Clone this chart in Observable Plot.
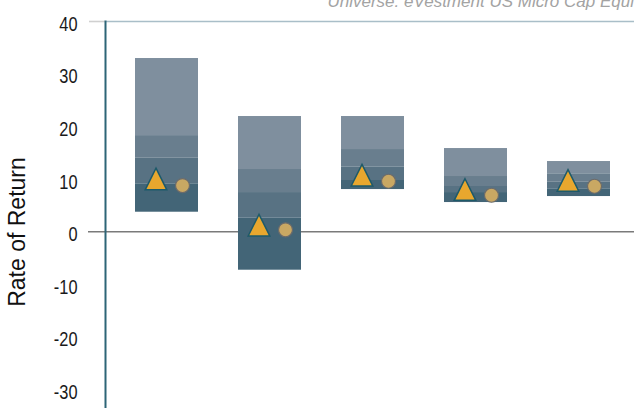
<!DOCTYPE html>
<html>
<head>
<meta charset="utf-8">
<script src="https://cdn.jsdelivr.net/npm/d3@7"></script>
<script src="https://cdn.jsdelivr.net/npm/@observablehq/plot@0.6"></script>
<style>
  html, body { margin: 0; padding: 0; background: #fff; overflow: hidden; }
</style>
</head>
<body>
<div id="chart"></div>
<script>
// Periods (x labels are outside the visible crop)
const categories = ["Period 1", "Period 2", "Period 3", "Period 4", "Period 5"];
// Universe percentile range bounds
const p95 = [32.96, 21.93, 21.93, 15.84, 13.37];
const p75 = [18.3, 11.85, 15.65, 10.52, 11.03];
const p50 = [14.0, 7.47, 12.29, 8.62, 9.43];
const p25 = [9.13, 2.59, 9.76, 7.47, 8.18];
const p5  = [3.73, -7.3, 8.04, 5.57, 6.71];
// Portfolio (triangle) and benchmark (circle)
const portfolio = [9.36, 0.59, 10.1, 7.36, 9.1];
const benchmark = [8.8, 0.38, 9.62, 6.96, 8.67];
// Y tick values
const yTicks = [-30, -20, -10, 0, 10, 20, 30, 40];
const title = "Universe: eVestment US Micro Cap Equity";
const yLabel = "Rate of Return";

const bands = [
  {lo: p75, hi: p95, color: "#7f8f9e"},
  {lo: p50, hi: p75, color: "#697e8e"},
  {lo: p25, hi: p50, color: "#587283"},
  {lo: p5,  hi: p25, color: "#436577"}
];

const tallTriangle = {
  draw(context, size) {
    const r = Math.sqrt(size / Math.PI);
    const h = 2 * r;
    context.moveTo(0, -2 * h / 3);
    context.lineTo(r, h / 3);
    context.lineTo(-r, h / 3);
    context.closePath();
  }
};

const chart = Plot.plot({
  width: 634,
  height: 408,
  marginLeft: 105,
  marginRight: 0,
  marginTop: 21,
  marginBottom: 0,
  style: {background: "#fff", overflow: "hidden"},
  x: {type: "band", domain: categories, range: [105, 639], paddingInner: 0.393, paddingOuter: 0.27, axis: null},
  y: {domain: [-33.6, 40], axis: null},
  marks: [
    Plot.ruleY([40], {stroke: "#a9bec8", strokeWidth: 1.6, insetLeft: 1}),
    Plot.ruleY([40], {stroke: "#d0d0d0", strokeWidth: 1.6, insetLeft: -16, insetRight: 529}),
    Plot.ruleY([0], {stroke: "#7a7a7a", strokeWidth: 1.5, insetLeft: -17}),
    ...bands.map(b => Plot.barY(categories, {
      x: d => d,
      y1: (d, i) => b.lo[i],
      y2: (d, i) => b.hi[i],
      fill: b.color
    })),
    Plot.frame({anchor: "left", stroke: "#2d6577", strokeWidth: 2}),
    Plot.axisY({
      ticks: yTicks,
      tickFormat: d => String(d),
      tickSize: 0,
      tickPadding: 28,
      label: null,
      fontSize: 20,
      fontFamily: "'Liberation Sans', Arial, sans-serif",
      fill: "#1a1a1a",
      dy: 3
    }),
    Plot.dot(categories, {
      x: d => d,
      y: (d, i) => benchmark[i],
      r: 7,
      dx: 15.5,
      fill: "#c9a863",
      stroke: "#6b6b6b",
      strokeWidth: 1.2
    }),
    Plot.dot(categories, {
      x: d => d,
      y: (d, i) => portfolio[i],
      r: 10.8,
      dx: -11,
      symbol: tallTriangle,
      fill: "#e8a72e",
      stroke: "#1d5a6a",
      strokeWidth: 1.5
    }),
    Plot.text([title], {
      frameAnchor: "top-left",
      dx: 222,
      dy: -15,
      textAnchor: "start",
      lineAnchor: "bottom",
      fontSize: 17,
      fontStyle: "italic",
      fontFamily: "'Liberation Sans', Arial, sans-serif",
      fill: "#a3a3a3"
    }),
    Plot.text([yLabel], {
      frameAnchor: "left",
      rotate: -90,
      dx: -88,
      dy: 17,
      textAnchor: "middle",
      lineAnchor: "middle",
      fontSize: 23,
      fontFamily: "'Liberation Sans', Arial, sans-serif",
      fill: "#111"
    })
  ]
});

// Condense the tick labels horizontally (narrow face in the reference)
d3.select(chart).selectAll("g[aria-label='y-axis tick label'] text").each(function() {
  const t = d3.select(this);
  const tr = t.attr("transform");
  if (tr) {
    t.attr("transform", tr + " scale(0.82,1)");
  } else {
    const x = +t.attr("x") || 0, y = +t.attr("y") || 0;
    t.attr("x", null).attr("y", null).attr("transform", `translate(${x},${y}) scale(0.82,1)`);
  }
});

document.getElementById("chart").appendChild(chart);
</script>
</body>
</html>
